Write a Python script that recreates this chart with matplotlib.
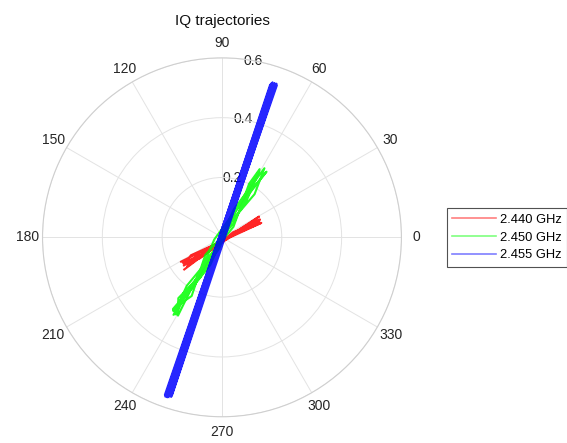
import numpy as np
import matplotlib.pyplot as plt

plt.rcParams['font.family'] = ['Liberation Sans', 'DejaVu Sans']

# IQ samples per carrier: position along the trajectory axis (s) and
# sideways offset (d), plus the axis angle in degrees
labels = ['2.440 GHz', '2.450 GHz', '2.455 GHz']
colors = ['#ff0000', '#00ff00', '#0000ff']

red_angle = 30.0
red_s = [-0.163, -0.08, 0.00, 0.07, 0.142, 0.06, -0.02, -0.10, -0.160, -0.07,
         0.02, 0.09, 0.138, 0.05, -0.04, -0.12, -0.158, -0.06, 0.03, 0.140,
         0.08, -0.03, -0.150, -0.09, 0.01, 0.10, 0.135, 0.04, -0.05, -0.155]
red_d = [-0.030, -0.020, -0.012, -0.006, -0.002, -0.010, -0.016, -0.024, -0.002, -0.008,
         -0.010, -0.018, -0.024, -0.016, -0.008, 0.000, -0.018, -0.014, -0.010, -0.012,
         -0.006, -0.014, -0.026, -0.006, -0.012, -0.010, -0.016, -0.004, -0.018, -0.010]

green_angle = 58.0
green_s = [-0.305, -0.20, -0.05, 0.10, 0.271, 0.18, 0.02, -0.12, -0.29, -0.22,
           -0.08, 0.06, 0.26, 0.20, 0.05, -0.10, -0.30, -0.25, -0.10, 0.08,
           0.265, 0.15, -0.02, -0.18, -0.295, -0.15, 0.00, 0.14, 0.255, 0.12,
           -0.04, -0.21, -0.30]
green_d = [0.000, 0.014, -0.006, 0.016, 0.002, -0.016, 0.008, -0.014, 0.012, -0.018,
           0.016, -0.008, 0.014, 0.018, -0.014, 0.006, -0.014, 0.016, -0.016, 0.010,
           -0.010, 0.006, 0.018, -0.008, 0.008, -0.010, 0.004, -0.006, 0.012, 0.010,
           -0.012, 0.004, -0.006]

blue_angle = 71.2
blue_s = [-0.565, 0.545, -0.560, 0.540, -0.565, 0.545, -0.555, 0.535, -0.562, 0.542,
          -0.558, 0.545, -0.560, 0.540, -0.563]
blue_d = [0.002, 0.000, -0.011, 0.010, 0.008, -0.007, -0.012, 0.012, 0.005, -0.004,
          -0.007, 0.007, 0.011, -0.010, -0.003]

theta_ticks = np.arange(0, 360, 30)
r_ticks = [0, 0.2, 0.4, 0.6]


def to_iq(angle, s, d):
    a = np.deg2rad(angle)
    s = np.array(s)
    d = np.array(d)
    i = s * np.cos(a) - d * np.sin(a)
    q = s * np.sin(a) + d * np.cos(a)
    return i, q


fig = plt.figure(figsize=(5.67, 4.43), dpi=100)
ax = fig.add_axes([0.075, 0.058, 0.633, 0.8126], projection='polar')

series = [(red_angle, red_s, red_d), (green_angle, green_s, green_d),
          (blue_angle, blue_s, blue_d)]
for (ang, s, d), lab, col in zip(series, labels, colors):
    i, q = to_iq(ang, s, d)
    ax.plot(np.arctan2(q, i), np.hypot(i, q), color=col, alpha=0.85,
            lw=1.5, label=lab, zorder=3)

ax.set_rlim(0, 0.6)
ax.set_thetagrids(theta_ticks, [str(t) for t in theta_ticks])
ax.set_rgrids([0.2, 0.4, 0.6], [''] * 3)
ax.tick_params(axis='x', pad=4, length=0, labelsize=10, colors='#262626')
ax.grid(True, color='#e3e3e3', lw=0.7)
ax.spines['polar'].set_color('#cfcfcf')
ax.spines['polar'].set_linewidth(0.8)

# radial labels along the 80 degree spoke
for r in r_ticks:
    ax.text(np.deg2rad(80), r, f'{r:g}', ha='center', va='center',
            fontsize=10, color='#262626', zorder=1)

ax.set_title('IQ trajectories', fontsize=11, pad=24, color='#111111')

leg = ax.legend(loc='center left', bbox_to_anchor=(447 / 567, 1 - 237.5 / 443),
                bbox_transform=fig.transFigure, fontsize=9.3, frameon=True,
                fancybox=False, handlelength=3.4, handletextpad=0.3,
                labelspacing=0.45, borderpad=0.4, borderaxespad=0)
leg.get_frame().set_edgecolor('#262626')
leg.get_frame().set_linewidth(0.8)
for h in leg.get_lines():
    h.set_alpha(0.5)
    h.set_linewidth(1.2)

plt.savefig('out.png', dpi=100)
